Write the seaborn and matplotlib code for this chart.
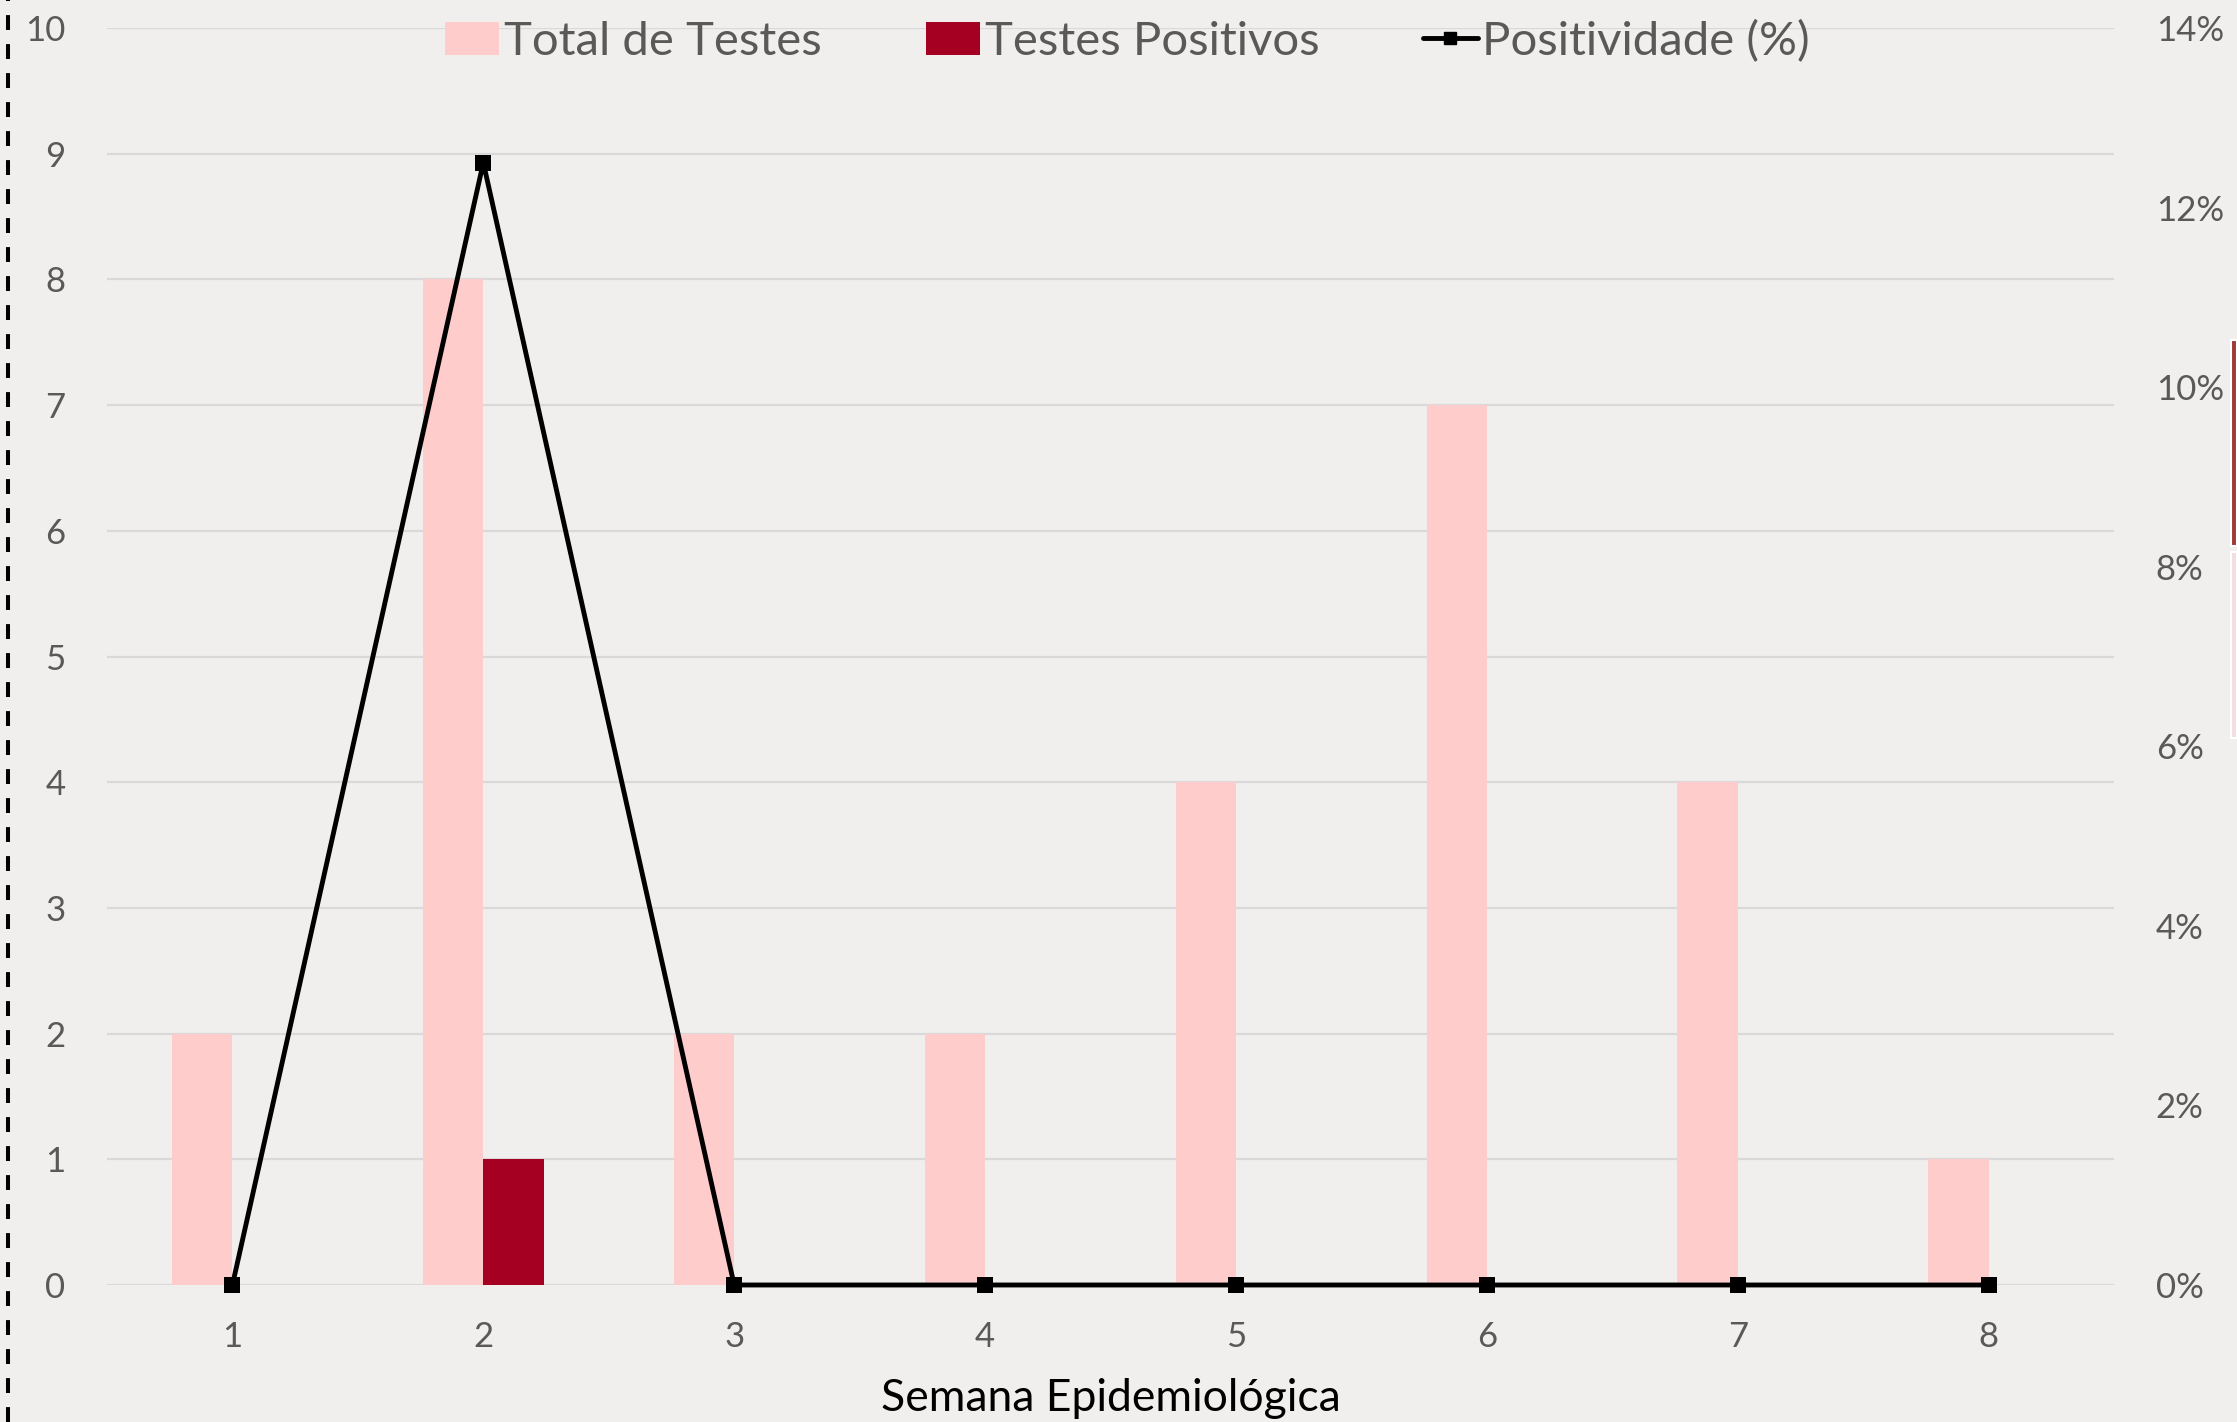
import pandas as pd
import numpy as np
import matplotlib
matplotlib.use("Agg")
import matplotlib.pyplot as plt
import seaborn as sns
from matplotlib.lines import Line2D
from matplotlib.patches import Patch, Rectangle
from matplotlib.ticker import PercentFormatter

# dados por semana epidemiológica
semanas = ["1", "2", "3", "4", "5", "6", "7", "8"]
total_testes = [2, 8, 2, 2, 4, 7, 4, 1]
testes_positivos = [0, 1, 0, 0, 0, 0, 0, 0]
positividade = [0.0, 0.125, 0.0, 0.0, 0.0, 0.0, 0.0, 0.0]

cor_total = "#FFCCCC"
cor_pos = "#A50021"
cor_fundo = "#F0EFED"
cor_texto = "#595959"

df = pd.DataFrame({
    "semana": semanas * 2,
    "valor": total_testes + testes_positivos,
    "serie": ["Total de Testes"] * 8 + ["Testes Positivos"] * 8,
})

sns.set_theme(style="white")
plt.rcParams["font.family"] = ["Lato", "DejaVu Sans"]

fig = plt.figure(figsize=(22.37, 14.22), dpi=100, facecolor=cor_fundo)
ax = fig.add_axes([107 / 2237, 1 - 1285 / 1422, (2114 - 107) / 2237, (1285 - 28) / 1422])
ax.set_facecolor(cor_fundo)

sns.barplot(data=df, x="semana", y="valor", hue="serie", order=semanas,
            palette={"Total de Testes": cor_total, "Testes Positivos": cor_pos},
            width=0.48, gap=0, linewidth=0, saturation=1, ax=ax, legend=False)

ax.set_ylim(0, 10)
ax.set_xlim(-0.5, 7.5)
ax.set_yticks(range(0, 11))
ax.yaxis.grid(True, color="#D9D9D9", linewidth=1.6)
ax.set_axisbelow(True)
for s in ax.spines.values():
    s.set_visible(False)
ax.tick_params(axis="both", length=0, labelsize=25, labelcolor=cor_texto)
ax.tick_params(axis="y", pad=30)
ax.tick_params(axis="x", pad=26)
ax.set_ylabel("")
ax.set_xlabel("Semana Epidemiológica", fontsize=32, color="black", labelpad=18)

# eixo secundário da positividade
ax2 = ax.twinx()
sns.lineplot(x=np.arange(len(semanas)), y=positividade, ax=ax2, color="black",
             linewidth=3.5, marker="s", markersize=11, markeredgewidth=0,
             clip_on=False)
ax2.set_ylim(0, 0.14)
ax2.set_yticks(np.arange(0, 0.141, 0.02))
ax2.yaxis.set_major_formatter(PercentFormatter(1.0, decimals=0))
ax2.tick_params(axis="y", length=0, labelsize=25, labelcolor=cor_texto, pad=30)
for s in ax2.spines.values():
    s.set_visible(False)
ax2.set_ylabel("")
ax2.set_xlim(-0.5, 7.5)

handles = [
    Patch(facecolor=cor_total, edgecolor="none"),
    Patch(facecolor=cor_pos, edgecolor="none"),
    Line2D([], [], color="black", linewidth=3.5, marker="s", markersize=9),
]
labels = ["Total de Testes", "Testes Positivos", "Positividade (%)"]
leg = fig.legend(handles, labels, loc="center", bbox_to_anchor=(0.504, 0.971),
                 ncol=3, frameon=False, fontsize=34, handlelength=1.15,
                 handleheight=0.7, handletextpad=0.1, columnspacing=2.2,
                 labelcolor=cor_texto)

# linha tracejada à esquerda e recortes à direita
fig.add_artist(Line2D([8 / 2237, 8 / 2237], [0, 1], transform=fig.transFigure,
                      color="black", linewidth=2.9, linestyle=(0, (3.7, 3.5))))
fig.add_artist(Rectangle((2231 / 2237, 1 - 546 / 1422), 6 / 2237, 206 / 1422,
                         transform=fig.transFigure, facecolor="#9B3A3A",
                         edgecolor="white", linewidth=1.5))
fig.add_artist(Rectangle((2231 / 2237, 1 - 738 / 1422), 6 / 2237, 186 / 1422,
                         transform=fig.transFigure, facecolor="#F3DEDE",
                         edgecolor="white", linewidth=1.5))

fig.savefig("out.png", dpi=100, facecolor=cor_fundo)
